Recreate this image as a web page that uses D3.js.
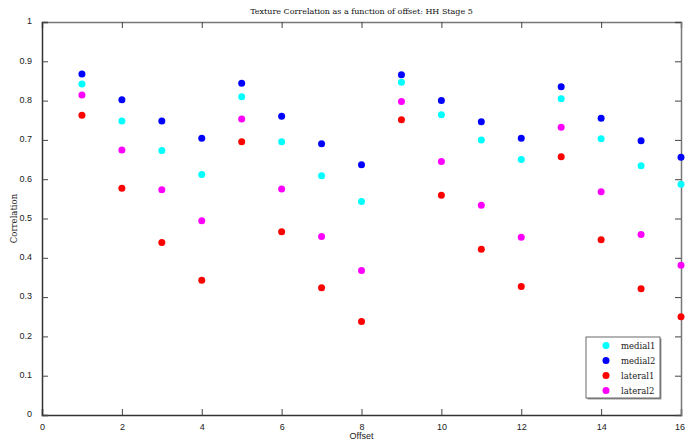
<!DOCTYPE html>
<html>
<head>
<meta charset="utf-8">
<script src="https://cdn.jsdelivr.net/npm/d3@7/dist/d3.min.js"></script>
<style>
  html, body { margin: 0; padding: 0; background: #fff; }
  svg { display: block; }
  .tick text { font-family: "Liberation Sans", Arial, sans-serif; font-size: 9px; fill: #222; }
  .serif { font-family: "DejaVu Serif", "Liberation Serif", serif; }
</style>
</head>
<body>
<svg id="chart" width="685" height="443"></svg>
<script>
const offsets = [1, 2, 3, 4, 5, 6, 7, 8, 9, 10, 11, 12, 13, 14, 15, 16];
const medial1 = [0.842, 0.748, 0.673, 0.612, 0.810, 0.695, 0.609, 0.543, 0.847, 0.764, 0.700, 0.650, 0.805, 0.703, 0.634, 0.587];
const medial2 = [0.868, 0.802, 0.748, 0.704, 0.844, 0.760, 0.690, 0.637, 0.866, 0.800, 0.746, 0.704, 0.835, 0.755, 0.698, 0.656];
const lateral1 = [0.763, 0.577, 0.439, 0.343, 0.695, 0.466, 0.324, 0.238, 0.751, 0.559, 0.422, 0.327, 0.657, 0.446, 0.321, 0.250];
const lateral2 = [0.814, 0.674, 0.573, 0.494, 0.753, 0.575, 0.454, 0.368, 0.798, 0.645, 0.534, 0.452, 0.732, 0.568, 0.459, 0.381];
const xTicks = [0, 2, 4, 6, 8, 10, 12, 14, 16];
const yTicks = [0, 0.1, 0.2, 0.3, 0.4, 0.5, 0.6, 0.7, 0.8, 0.9, 1];

const series = [
  { name: 'medial1', values: medial1, color: '#00ffff' },
  { name: 'medial2', values: medial2, color: '#0000ff' },
  { name: 'lateral1', values: lateral1, color: '#ff0000' },
  { name: 'lateral2', values: lateral2, color: '#ff00ff' },
];

const svg = d3.select('#chart');
const margin = { top: 22, right: 4, bottom: 28, left: 42 };
const width = 685, height = 443;
const innerW = width - margin.left - margin.right;
const innerH = height - margin.top - margin.bottom;
const g = svg.append('g').attr('transform', `translate(${margin.left},${margin.top})`);

const x = d3.scaleLinear([0, 16], [0, innerW]);
const y = d3.scaleLinear([0, 1], [innerH, 0]);
const fmt = (d) => (d === 0 || d === 1 ? String(d) : d3.format('.1f')(d));

// frame with inward ticks on all four sides
const axStroke = '#444';
const gx = g.append('g').attr('transform', `translate(0,${innerH})`)
  .call(d3.axisBottom(x).tickValues(xTicks).tickSize(-6).tickPadding(9).tickFormat(d3.format('d')));
const gxt = g.append('g').call(d3.axisTop(x).tickValues(xTicks).tickSize(-6).tickFormat(''));
const gy = g.append('g')
  .call(d3.axisLeft(y).tickValues(yTicks).tickSize(-6).tickPadding(10).tickFormat(fmt));
const gyr = g.append('g').attr('transform', `translate(${innerW},0)`)
  .call(d3.axisRight(y).tickValues(yTicks).tickSize(-6).tickFormat(''));
[gx, gxt, gy, gyr].forEach((a) => {
  a.select('.domain').attr('stroke', '#777').attr('stroke-width', 1.5);
  a.selectAll('.tick line').attr('stroke', axStroke);
});
gy.select('.domain').attr('stroke', '#333');
gx.select('.domain').attr('stroke', '#333');
gy.selectAll('.tick text').attr('dy', '0.2em');
gx.selectAll('.tick text').filter((d) => d === 16).attr('dx', '-1.5');

// points
series.forEach((s) => {
  g.append('g').selectAll('circle').data(s.values).join('circle')
    .attr('cx', (d, i) => x(offsets[i]))
    .attr('cy', (d) => y(d))
    .attr('r', 3.5)
    .attr('fill', s.color);
});

// title and axis labels
svg.append('text').attr('class', 'serif')
  .attr('x', margin.left + innerW / 2).attr('y', 14)
  .attr('text-anchor', 'middle').attr('font-size', 8).attr('fill', '#111')
  .text('Texture Correlation as a function of offset: HH Stage 5');
svg.append('text')
  .attr('x', margin.left + innerW / 2).attr('y', 439)
  .attr('text-anchor', 'middle').attr('font-size', 9)
  .attr('font-family', '"Liberation Sans", Arial, sans-serif').attr('fill', '#222')
  .text('Offset');
svg.append('text').attr('class', 'serif')
  .attr('transform', `translate(17,${margin.top + innerH / 2}) rotate(-90)`)
  .attr('text-anchor', 'middle').attr('font-size', 8.5).attr('fill', '#222')
  .text('Correlation');

// legend
const lg = svg.append('g').attr('transform', 'translate(586,337)');
lg.append('rect').attr('x', 1.5).attr('y', 1.5).attr('width', 74).attr('height', 61).attr('fill', '#999');
lg.append('rect').attr('width', 74).attr('height', 61).attr('fill', '#fff').attr('stroke', '#444').attr('stroke-width', 0.8);
series.forEach((s, i) => {
  const row = lg.append('g').attr('transform', `translate(0,${8.5 + i * 15})`);
  row.append('circle').attr('cx', 20).attr('cy', 0).attr('r', 3.5).attr('fill', s.color);
  row.append('text').attr('class', 'serif').attr('x', 35).attr('y', 3)
    .attr('font-size', 8.5).attr('fill', '#222').text(s.name);
});
</script>
</body>
</html>
